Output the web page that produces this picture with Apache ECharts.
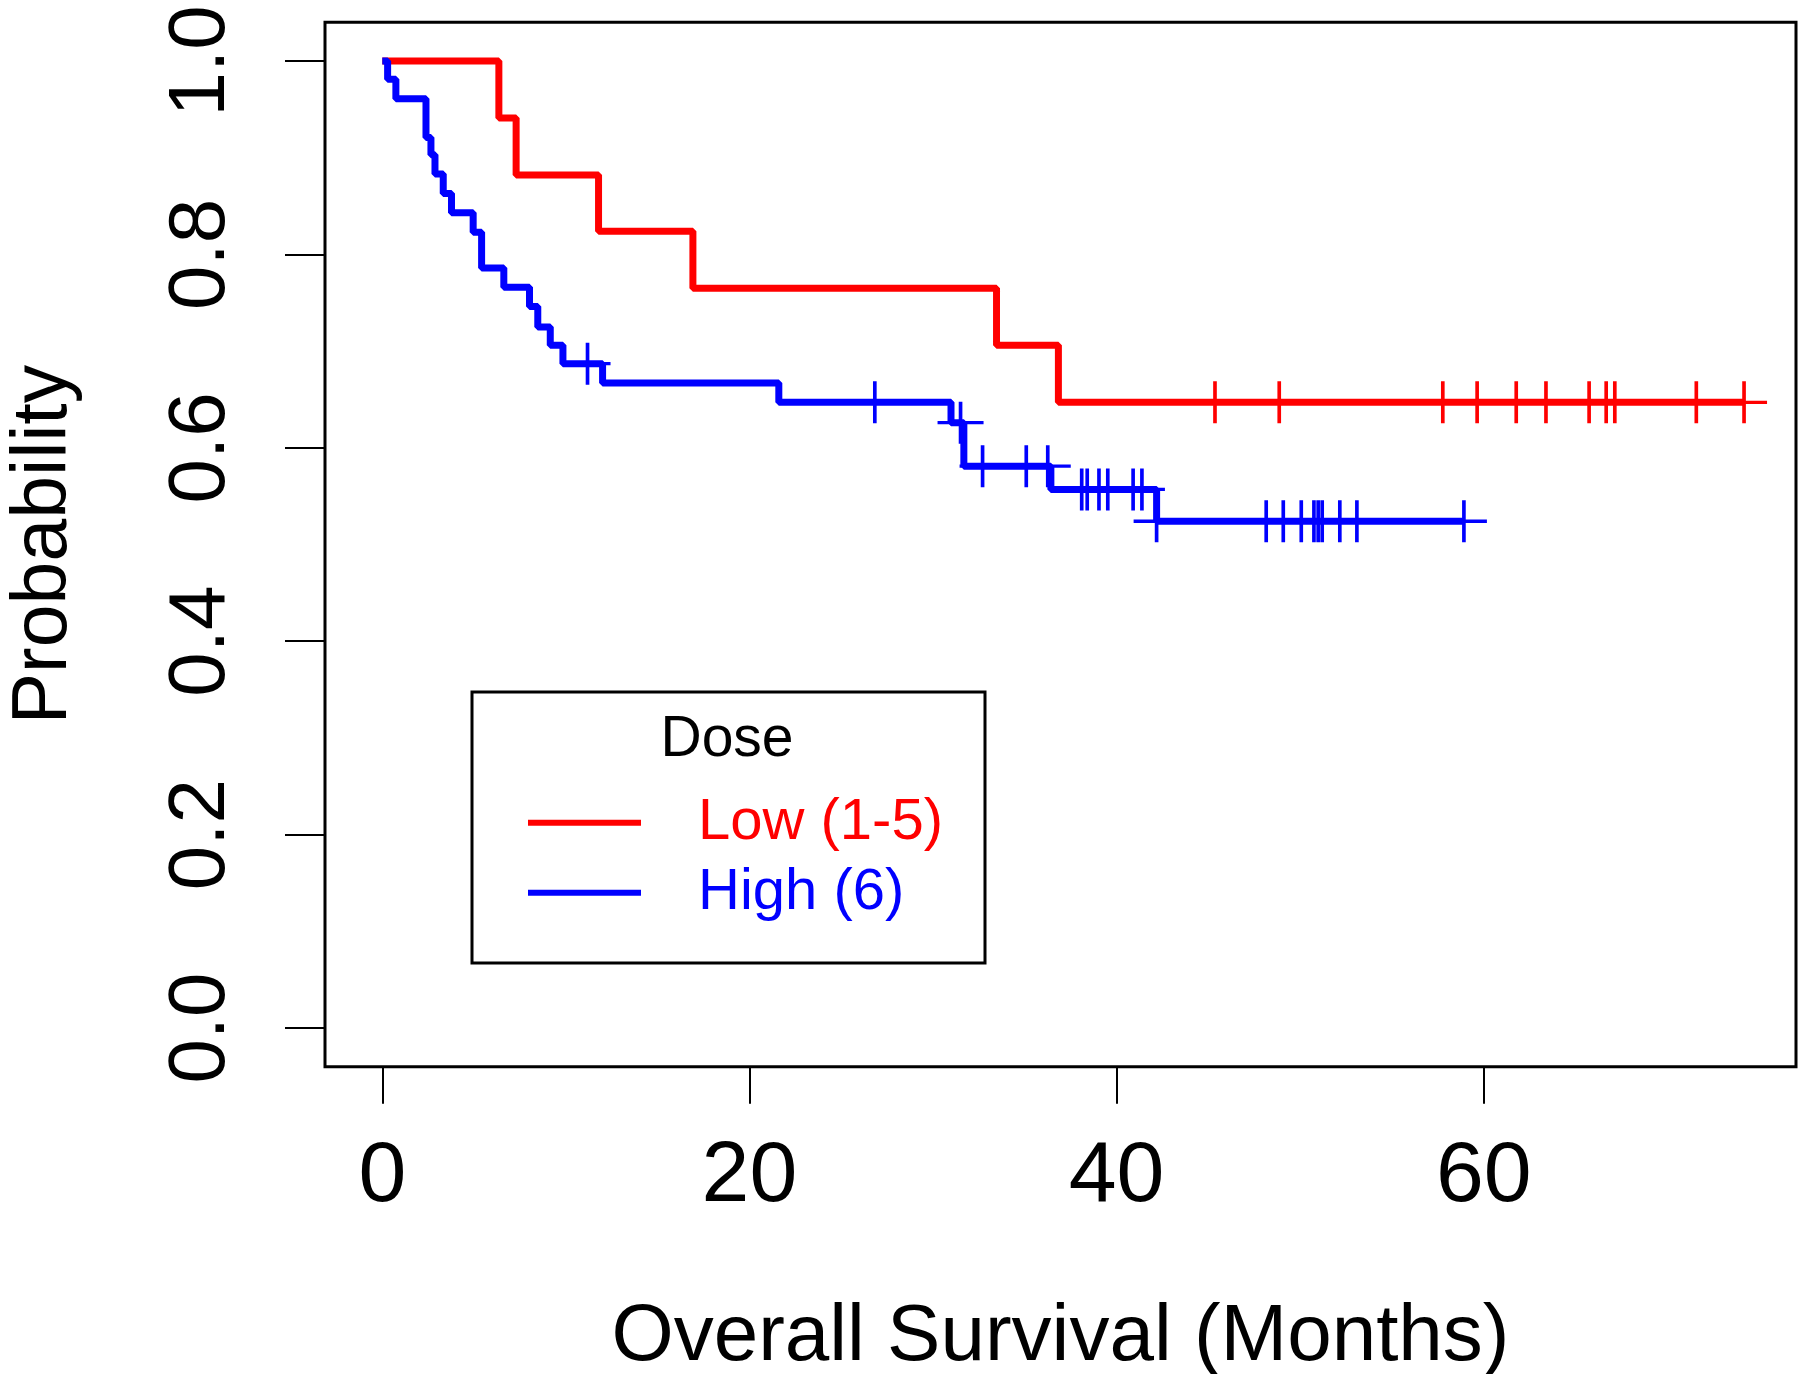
<!DOCTYPE html>
<html>
<head>
<meta charset="utf-8">
<script src="https://cdn.jsdelivr.net/npm/echarts@6/dist/echarts.min.js"></script>
<style>
  html, body { margin: 0; padding: 0; background: #fff; }
  #chart { width: 1800px; height: 1374px; }
</style>
</head>
<body>
<div id="chart"></div>
<script>
// ---- Data (Kaplan-Meier curves) ----
// Low dose (1-5): step times (months) and survival level after each step
var lowTimes = [0, 6.35, 7.29, 11.78, 16.92, 33.46, 36.83, 74.18];
var lowSurv  = [1.0, 0.941, 0.882, 0.824, 0.765, 0.706, 0.647, 0.647];
var lowCensor = [45.36, 48.86, 57.77, 59.64, 61.77, 63.39, 65.74, 66.67, 67.14, 71.58, 74.18];

// High dose (6)
var highTimes = [0, 0.29, 0.74, 2.38, 2.65, 2.87, 3.32, 3.77, 4.95, 5.41, 6.62, 8.02, 8.47, 9.15, 9.84, 12.0, 21.6, 30.98, 31.68, 36.42, 42.18, 58.92];
var highSurv  = [1.0, 0.981, 0.961, 0.921, 0.903, 0.883, 0.863, 0.843, 0.823, 0.786, 0.766, 0.746, 0.725, 0.706, 0.687, 0.667, 0.647, 0.626, 0.581, 0.557, 0.524, 0.524];
var highCensor = [11.18, 26.83, 31.5, 32.7, 35.08, 36.25, 38.1, 38.4, 39.04, 39.52, 40.9, 41.38, 42.18, 48.15, 49.08, 50.06, 50.75, 50.98, 51.2, 52.16, 53.09, 58.92];

var xTicks = [0, 20, 40, 60];
var yTicks = [0, 0.2, 0.4, 0.6, 0.8, 1.0];

var seriesNames = ['Low (1-5)', 'High (6)'];
var seriesColors = ['#ff0000', '#0000ff'];
var legendTitle = 'Dose';
var xTitle = 'Overall Survival (Months)';
var yTitle = 'Probability';

// ---- build ----
function pairs(t, s) { return t.map(function (v, i) { return [v, s[i]]; }); }
function levelAt(t, times, surv) {
  var lv = surv[0];
  for (var i = 0; i < times.length; i++) { if (times[i] <= t) lv = surv[i]; }
  return lv;
}
function censorPts(c, times, surv) { return c.map(function (t) { return [t, levelAt(t, times, surv)]; }); }

var FONT = "'Liberation Sans', Arial, sans-serif";
var PLUS = 'path://M10,0 L10,20 M0,10 L20,10';

var chart = echarts.init(document.getElementById('chart'), null, { renderer: 'canvas' });
chart.setOption({
  animation: false,
  backgroundColor: '#ffffff',
  grid: {
    left: 325, top: 22.3, width: 1471, height: 1044.4,
    show: true, borderColor: '#000', borderWidth: 3, backgroundColor: 'transparent',
    containLabel: false, outerBoundsMode: 'none'
  },
  xAxis: {
    type: 'value', min: -3.121, max: 77.01,
    axisLine: { show: false, onZero: false },
    splitLine: { show: false },
    axisTick: { show: true, inside: false, customValues: xTicks, length: 37, lineStyle: { color: '#000', width: 2 } },
    axisLabel: { customValues: xTicks, fontSize: 86, color: '#000', fontFamily: FONT, margin: 68 },
    name: xTitle, nameLocation: 'middle', nameGap: 231,
    nameTextStyle: { fontSize: 80, color: '#000', fontFamily: FONT }
  },
  yAxis: {
    type: 'value', min: -0.04, max: 1.04,
    axisLine: { show: false, onZero: false },
    splitLine: { show: false },
    axisTick: { show: true, inside: false, customValues: yTicks, length: 40, lineStyle: { color: '#000', width: 2 } },
    axisLabel: {
      customValues: yTicks, fontSize: 80, color: '#000', fontFamily: FONT, margin: 83, rotate: 90,
      formatter: function (v) { return v.toFixed(1); }
    },
    name: yTitle, nameLocation: 'middle', nameGap: 242, nameRotate: 90,
    nameTextStyle: { fontSize: 77, color: '#000', fontFamily: FONT }
  },
  legend: {
    orient: 'vertical', left: 528, top: 787.7, padding: 0,
    itemWidth: 113, itemHeight: 6, itemGap: 0, icon: 'rect',
    selectedMode: false,
    textStyle: { fontSize: 58, lineHeight: 70, fontFamily: FONT, padding: [0, 0, 0, 52] },
    data: [
      { name: seriesNames[0], textStyle: { color: seriesColors[0] } },
      { name: seriesNames[1], textStyle: { color: seriesColors[1] } }
    ]
  },
  graphic: [
    { type: 'rect', shape: { x: 472, y: 692, width: 513, height: 271 },
      style: { fill: 'none', stroke: '#000', lineWidth: 3 }, z: 10 },
    { type: 'text', x: 727, y: 740, z: 10,
      style: { text: legendTitle, fontSize: 57, fontFamily: FONT, fill: '#000', align: 'center', verticalAlign: 'middle' } }
  ],
  series: [
    { name: seriesNames[0], type: 'line', step: 'end', data: pairs(lowTimes, lowSurv),
      symbol: 'none', lineStyle: { color: seriesColors[0], width: 7 }, itemStyle: { color: seriesColors[0] }, z: 2 },
    { name: 'lowCensor', type: 'scatter', data: censorPts(lowCensor, lowTimes, lowSurv),
      symbol: PLUS, symbolSize: [46, 42],
      itemStyle: { color: 'none', borderColor: seriesColors[0], borderWidth: 3.5, opacity: 1 }, z: 3 },
    { name: seriesNames[1], type: 'line', step: 'end', data: pairs(highTimes, highSurv),
      symbol: 'none', lineStyle: { color: seriesColors[1], width: 7 }, itemStyle: { color: seriesColors[1] }, z: 4 },
    { name: 'highCensor', type: 'scatter', data: censorPts(highCensor, highTimes, highSurv),
      symbol: PLUS, symbolSize: [46, 42],
      itemStyle: { color: 'none', borderColor: seriesColors[1], borderWidth: 3.5, opacity: 1 }, z: 5 }
  ]
});
</script>
</body>
</html>
